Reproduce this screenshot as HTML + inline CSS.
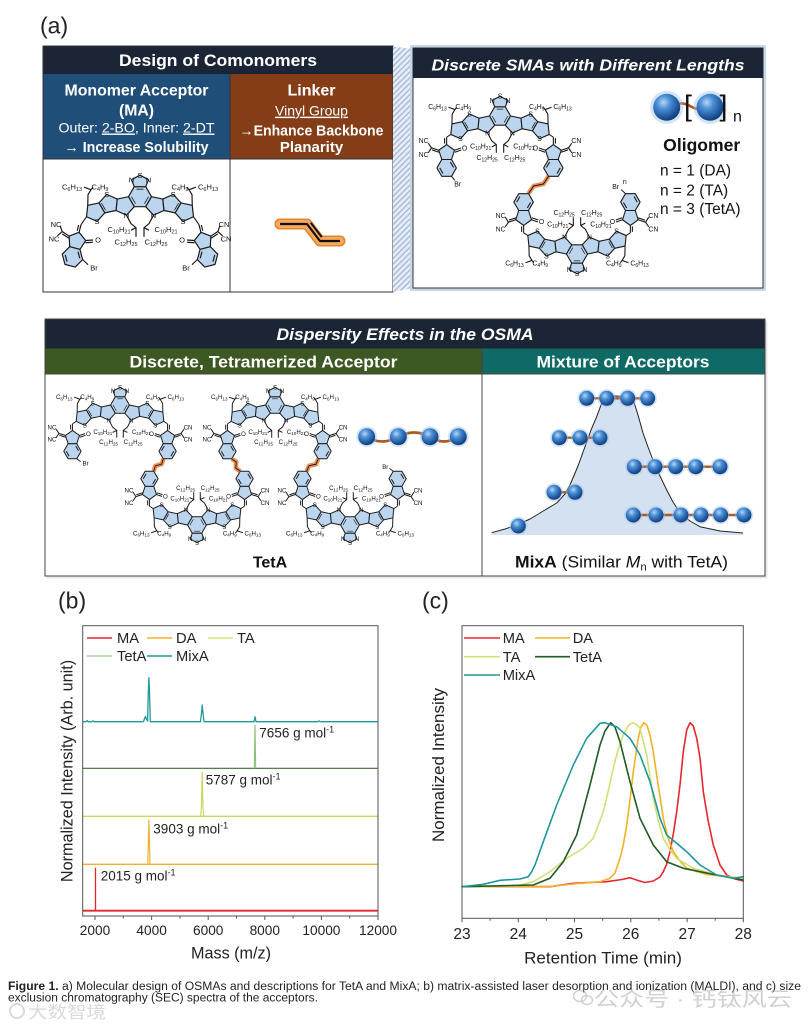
<!DOCTYPE html>
<html><head><meta charset="utf-8">
<style>
html,body{margin:0;padding:0;background:#fff;}
svg{display:block;}
text{font-family:"Liberation Sans",Arial,sans-serif;}
.m{font-size:7.5px;fill:#111;text-anchor:middle;}
.s{font-size:5.5px;}
.bd{stroke:#1a1a1a;stroke-width:1.1;fill:none;}
.wt{fill:#fff;font-weight:bold;text-anchor:middle;}
.ax{fill:#222;}
</style></head>
<body>
<svg width="809" height="1025" viewBox="0 0 809 1025" xmlns="http://www.w3.org/2000/svg">
<defs>
<pattern id="hatch" width="4" height="4" patternUnits="userSpaceOnUse" patternTransform="rotate(45)">
<rect width="4" height="4" fill="#e6edf6"/><rect width="1.4" height="4" fill="#a6bad6"/></pattern>
<radialGradient id="bg" cx=".38" cy=".32" r=".72">
<stop offset="0" stop-color="#b4d6f6"/><stop offset=".35" stop-color="#4a8ed4"/><stop offset=".8" stop-color="#1c5196"/><stop offset="1" stop-color="#123a6e"/></radialGradient>
<g id="ball"><circle r="9.2" fill="#9ec4ea" opacity=".45"/><circle r="7.5" fill="url(#bg)"/></g>
<g id="core" fill="#bcd5ef" stroke="#1a1a1a" stroke-width="1.2" stroke-linejoin="round">
<polygon points="-11.5,0 -5.75,-10 5.75,-10 11.5,0 5.75,10 -5.75,10"/>
<polygon points="-5.75,-10 -8.5,-17 0,-21.5 8.5,-17 5.75,-10"/>
<polygon points="-11.5,0 -5.75,10 -13.5,18.5 -24,13.8 -22.8,2.4"/>
<polygon points="11.5,0 5.75,10 13.5,18.5 24,13.8 22.8,2.4"/>
<polygon points="-22.8,2.4 -24,13.8 -35.25,16.18 -40.98,6.21 -33.28,-2.32"/>
<polygon points="22.8,2.4 24,13.8 35.25,16.18 40.98,6.21 33.28,-2.32"/>
<polygon points="-40.98,6.21 -35.25,16.18 -42.95,24.72 -53.45,20.04 -52.25,8.61"/>
<polygon points="40.98,6.21 35.25,16.18 42.95,24.72 53.45,20.04 52.25,8.61"/>
<path fill="none" d="M-52.25,8.61 L-52,-2 L-49,-7 L-56,-9.5 M-49,-7 L-47,-9.5 M52.25,8.61 L52,-2 L49,-7 L56,-9.5 M49,-7 L47,-9.5 M-13.5,18.5 L-9,27 L-4,31 L-4,40 M-4,31 L-9,33.5 M13.5,18.5 L9,27 L4,31 L4,40 M4,31 L9,33.5"/>
<path fill="none" stroke-width=".8" d="M-3.5,-7.5 L3.5,-7.5 M-8.5,0 L-4.5,7 M8.5,0 L4.5,7 M-38.5,6.5 L-34.5,13.5 M38.5,6.5 L34.5,13.5"/>
</g>
<g id="eg" fill="#bcd5ef" stroke="#1a1a1a" stroke-width="1.2" stroke-linejoin="round">
<polygon points="0,-9 8.56,-2.78 5.29,7.28 -5.29,7.28 -8.56,-2.78"/>
<polygon points="-5.29,7.28 5.29,7.28 10.58,16.44 5.29,25.6 -5.29,25.6 -10.58,16.44"/>
<path fill="none" d="M0,-9 V-17 M-2.2,-10 V-16 M-8.56,-2.78 L-16.5,-5.4 M-8.2,-0.6 L-15.8,-3.1 M-16.5,-5.4 L-20,-10.5 M-16.5,-5.4 L-20,0 M8.56,-2.78 L15.5,-5.2 M8.9,-0.6 L15.9,-3 M-7.5,16.4 L-4,22.5 M4,10 L7.5,16"/>
</g>
</defs>

<rect width="809" height="1025" fill="#fff"/>

<!-- ===== Panel (a) ===== -->
<text x="40" y="33.6" font-size="23" fill="#222">(a)</text>
<rect x="43" y="46" width="350" height="246" fill="#fff"/>
<rect x="43" y="46" width="350" height="28" fill="#1c2535"/>
<rect x="43" y="74" width="187" height="85" fill="#1f4e79"/>
<rect x="230" y="74" width="163" height="85" fill="#853d17"/>
<line x1="230" y1="74" x2="230" y2="292" stroke="#333"/>
<line x1="43" y1="159" x2="393" y2="159" stroke="#333"/>
<rect x="43" y="46" width="350" height="246" fill="none" stroke="#333"/>
<text class="wt" x="218" y="66" font-size="16.5" textLength="198" lengthAdjust="spacingAndGlyphs">Design of Comonomers</text>
<text class="wt" x="136.5" y="95.5" font-size="15.8" textLength="144" lengthAdjust="spacingAndGlyphs">Monomer Acceptor</text>
<text class="wt" x="136.5" y="115.5" font-size="15.8">(MA)</text>
<text x="136.5" y="132.5" font-size="14" fill="#fff" text-anchor="middle" textLength="156" lengthAdjust="spacingAndGlyphs">Outer: <tspan style="text-decoration:underline">2-BO</tspan>, Inner: <tspan style="text-decoration:underline">2-DT</tspan></text>
<text class="wt" x="136.5" y="152" font-size="15" textLength="144" lengthAdjust="spacingAndGlyphs">→ Increase Solubility</text>
<text class="wt" x="311.5" y="95.5" font-size="16">Linker</text>
<text x="311.5" y="115.7" font-size="14" fill="#fff" text-anchor="middle" style="text-decoration:underline">Vinyl Group</text>
<text class="wt" x="311.5" y="135.3" font-size="15" textLength="144" lengthAdjust="spacingAndGlyphs">→Enhance Backbone</text>
<text class="wt" x="311.5" y="152" font-size="15">Planarity</text>

<!-- linker icon -->
<path d="M280,224 L307,224 L320,241 L340,241" stroke="#dc8530" stroke-width="11" fill="none" stroke-linecap="round" stroke-linejoin="round"/>
<path d="M280,224 L307,224 L320,241 L340,241" stroke="#f5a95c" stroke-width="8" fill="none" stroke-linecap="round" stroke-linejoin="round"/>
<path d="M280,224 L307,224 L320,241 L340,241" stroke="#111" stroke-width="2.2" fill="none" stroke-linejoin="round"/>
<path d="M310.8,222.8 L321.8,237.2" stroke="#111" stroke-width="2"/>

<!-- MA molecule -->
<g transform="translate(140,196.7)">
<use href="#core"/>
<use href="#eg" transform="translate(-63.3,44.3) rotate(15)"/>
<use href="#eg" transform="translate(63.3,44.3) scale(-1,1) rotate(15)"/>
<path class="bd" d="M-53.45,20.04 L-58.9,27.9 M53.45,20.04 L58.9,27.9 M-57.3,62.9 L-52,68 M57.3,62.9 L52,68"/>
<text class="m" x="-8.5" y="-14.4">N</text><text class="m" x="0" y="-18.9">S</text><text class="m" x="8.5" y="-14.4">N</text>
<text class="m" x="-13.5" y="21.1">N</text><text class="m" x="13.5" y="21.1">N</text>
<text class="m" x="-33.3" y="0.3">S</text><text class="m" x="33.3" y="0.3">S</text>
<text class="m" x="-43" y="27.3">S</text><text class="m" x="43" y="27.3">S</text>
<text class="m" x="-68" y="-7.4">C<tspan class="s" dy="1.6">6</tspan><tspan dy="-1.6">H</tspan><tspan class="s" dy="1.6">13</tspan></text>
<text class="m" x="-40" y="-7.4">C<tspan class="s" dy="1.6">4</tspan><tspan dy="-1.6">H</tspan><tspan class="s" dy="1.6">9</tspan></text>
<text class="m" x="40" y="-7.4">C<tspan class="s" dy="1.6">4</tspan><tspan dy="-1.6">H</tspan><tspan class="s" dy="1.6">9</tspan></text>
<text class="m" x="68" y="-7.4">C<tspan class="s" dy="1.6">6</tspan><tspan dy="-1.6">H</tspan><tspan class="s" dy="1.6">13</tspan></text>
<text class="m" x="-21" y="35.2">C<tspan class="s" dy="1.6">10</tspan><tspan dy="-1.6">H</tspan><tspan class="s" dy="1.6">21</tspan></text>
<text class="m" x="26" y="35.2">C<tspan class="s" dy="1.6">10</tspan><tspan dy="-1.6">H</tspan><tspan class="s" dy="1.6">21</tspan></text>
<text class="m" x="-14" y="47.6">C<tspan class="s" dy="1.6">12</tspan><tspan dy="-1.6">H</tspan><tspan class="s" dy="1.6">25</tspan></text>
<text class="m" x="16" y="47.6">C<tspan class="s" dy="1.6">12</tspan><tspan dy="-1.6">H</tspan><tspan class="s" dy="1.6">25</tspan></text>
<text class="m" x="-84" y="30.1">NC</text><text class="m" x="-86" y="44.6">NC</text><text class="m" x="-42" y="45.6">O</text>
<text class="m" x="84" y="30.1">CN</text><text class="m" x="86" y="44.6">CN</text><text class="m" x="42" y="45.6">O</text>
<text class="m" x="-46" y="73.6">Br</text><text class="m" x="46" y="73.6">Br</text>
</g>

<!-- hatch connector -->
<polygon points="393,46.5 413,49 413,288 393,292" fill="url(#hatch)"/>

<!-- right box -->
<rect x="411.5" y="46.5" width="353" height="243" fill="none" stroke="#c7d7ea" stroke-width="3"/>
<rect x="413" y="48" width="350" height="240" fill="#fff" stroke="#333"/>
<rect x="413" y="48" width="350" height="30" fill="#1c2535"/>
<text class="wt" x="588" y="70.5" font-size="16" font-style="italic" textLength="313" lengthAdjust="spacingAndGlyphs">Discrete SMAs with Different Lengths</text>

<!-- right upper molecule -->
<g transform="translate(500,116) scale(.92)">
<use href="#core"/>
<use href="#eg" transform="translate(-58,40)"/>
<use href="#eg" transform="translate(58,40) scale(-1,1)"/>
<path class="bd" d="M-53.45,20.04 L-58,23 M53.45,20.04 L58,23 M-52.7,65.6 L-49,70"/>
<text class="m" x="-8.5" y="-14.4">N</text><text class="m" x="0" y="-18.9">S</text><text class="m" x="8.5" y="-14.4">N</text>
<text class="m" x="-13.5" y="21.1">N</text><text class="m" x="13.5" y="21.1">N</text>
<text class="m" x="-33.3" y="0.3">S</text><text class="m" x="33.3" y="0.3">S</text>
<text class="m" x="-43" y="27.3">S</text><text class="m" x="43" y="27.3">S</text>
<text class="m" x="-68" y="-7.4">C<tspan class="s" dy="1.6">6</tspan><tspan dy="-1.6">H</tspan><tspan class="s" dy="1.6">13</tspan></text>
<text class="m" x="-40" y="-7.4">C<tspan class="s" dy="1.6">4</tspan><tspan dy="-1.6">H</tspan><tspan class="s" dy="1.6">9</tspan></text>
<text class="m" x="40" y="-7.4">C<tspan class="s" dy="1.6">4</tspan><tspan dy="-1.6">H</tspan><tspan class="s" dy="1.6">9</tspan></text>
<text class="m" x="68" y="-7.4">C<tspan class="s" dy="1.6">6</tspan><tspan dy="-1.6">H</tspan><tspan class="s" dy="1.6">13</tspan></text>
<text class="m" x="-21" y="35.2">C<tspan class="s" dy="1.6">10</tspan><tspan dy="-1.6">H</tspan><tspan class="s" dy="1.6">21</tspan></text>
<text class="m" x="26" y="35.2">C<tspan class="s" dy="1.6">10</tspan><tspan dy="-1.6">H</tspan><tspan class="s" dy="1.6">21</tspan></text>
<text class="m" x="-14" y="47.6">C<tspan class="s" dy="1.6">12</tspan><tspan dy="-1.6">H</tspan><tspan class="s" dy="1.6">25</tspan></text>
<text class="m" x="16" y="47.6">C<tspan class="s" dy="1.6">12</tspan><tspan dy="-1.6">H</tspan><tspan class="s" dy="1.6">25</tspan></text>
<text class="m" x="-83" y="29.6">NC</text><text class="m" x="-83" y="44.6">NC</text><text class="m" x="-38.5" y="37.6">O</text>
<text class="m" x="83" y="29.6">CN</text><text class="m" x="83" y="44.6">CN</text><text class="m" x="38.5" y="37.6">O</text>
<text class="m" x="-46" y="76.6">Br</text>
</g>

<!-- right lower molecule (flipped) -->
<g transform="translate(577,254) scale(.92)">
<g transform="scale(1,-1)">
<use href="#core"/>
<use href="#eg" transform="translate(-58,40)"/>
<use href="#eg" transform="translate(58,40) scale(-1,1)"/>
<path class="bd" d="M-53.45,20.04 L-58,23 M53.45,20.04 L58,23 M52.7,65.6 L48,70"/>
</g>
<text class="m" x="-8.5" y="19.6">N</text><text class="m" x="0" y="24.1">S</text><text class="m" x="8.5" y="19.6">N</text>
<text class="m" x="-13.5" y="-15.9">N</text><text class="m" x="13.5" y="-15.9">N</text>
<text class="m" x="-33.3" y="4.9">S</text><text class="m" x="33.3" y="4.9">S</text>
<text class="m" x="-43" y="-22.1">S</text><text class="m" x="43" y="-22.1">S</text>
<text class="m" x="-68" y="12.6">C<tspan class="s" dy="1.6">6</tspan><tspan dy="-1.6">H</tspan><tspan class="s" dy="1.6">13</tspan></text>
<text class="m" x="-40" y="12.6">C<tspan class="s" dy="1.6">4</tspan><tspan dy="-1.6">H</tspan><tspan class="s" dy="1.6">9</tspan></text>
<text class="m" x="40" y="12.6">C<tspan class="s" dy="1.6">4</tspan><tspan dy="-1.6">H</tspan><tspan class="s" dy="1.6">9</tspan></text>
<text class="m" x="68" y="12.6">C<tspan class="s" dy="1.6">6</tspan><tspan dy="-1.6">H</tspan><tspan class="s" dy="1.6">13</tspan></text>
<text class="m" x="-21" y="-30">C<tspan class="s" dy="1.6">10</tspan><tspan dy="-1.6">H</tspan><tspan class="s" dy="1.6">21</tspan></text>
<text class="m" x="26" y="-30">C<tspan class="s" dy="1.6">10</tspan><tspan dy="-1.6">H</tspan><tspan class="s" dy="1.6">21</tspan></text>
<text class="m" x="-14" y="-42.4">C<tspan class="s" dy="1.6">12</tspan><tspan dy="-1.6">H</tspan><tspan class="s" dy="1.6">25</tspan></text>
<text class="m" x="16" y="-42.4">C<tspan class="s" dy="1.6">12</tspan><tspan dy="-1.6">H</tspan><tspan class="s" dy="1.6">25</tspan></text>
<text class="m" x="-83" y="-24.4">NC</text><text class="m" x="-83" y="-39.4">NC</text><text class="m" x="-38.5" y="-32.4">O</text>
<text class="m" x="83" y="-24.4">CN</text><text class="m" x="83" y="-39.4">CN</text><text class="m" x="38.5" y="-32.4">O</text>
<text class="m" x="42" y="-70.4">Br</text><text class="m" x="52" y="-76" font-size="6.5">n</text>
</g>
<path d="M548.5,176.4 L543.4,184 L533.6,186 L528.5,193.6" stroke="#e4793a" stroke-width="4.5" fill="none" opacity=".85" stroke-linejoin="round"/>
<path d="M548.5,176.4 L543.4,184 L533.6,186 L528.5,193.6" stroke="#111" stroke-width=".9" fill="none"/>

<!-- oligomer icon -->
<path d="M667,108 Q680,100 690,106 T710,108" stroke="#a85a25" stroke-width="2.6" fill="none"/>
<use href="#ball" transform="translate(666.7,107.3) scale(1.8)"/>
<use href="#ball" transform="translate(710,107.3) scale(1.8)"/>
<text x="684" y="115.7" font-size="28.6" fill="#111">[</text>
<text x="719.5" y="115.7" font-size="28.6" fill="#111">]</text>
<text x="733" y="121.7" font-size="16" fill="#111">n</text>
<text x="701.7" y="151" font-size="17.5" font-weight="bold" fill="#111" text-anchor="middle" textLength="77" lengthAdjust="spacingAndGlyphs">Oligomer</text>
<text x="660" y="175.5" font-size="15.5" fill="#111">n = 1 (DA)</text>
<text x="660" y="195.5" font-size="15.5" fill="#111">n = 2 (TA)</text>
<text x="660" y="213.8" font-size="15.5" fill="#111">n = 3 (TetA)</text>

<!-- ===== Middle panel ===== -->
<rect x="46.5" y="320.5" width="721" height="258" fill="#e8e8e8"/>
<rect x="45" y="319" width="720" height="257" fill="#fff" stroke="#444"/>
<rect x="45" y="319" width="720" height="29.5" fill="#1c2535"/>
<rect x="45" y="348.5" width="437" height="25.5" fill="#3d5822"/>
<rect x="482" y="348.5" width="283" height="25.5" fill="#0f6a66"/>
<line x1="482" y1="348.5" x2="482" y2="576" stroke="#444"/>
<line x1="45" y1="374" x2="765" y2="374" stroke="#444"/>
<rect x="45" y="319" width="720" height="257" fill="none" stroke="#444"/>
<text class="wt" x="405" y="340" font-size="16.5" font-style="italic" textLength="257" lengthAdjust="spacingAndGlyphs">Dispersity Effects in the OSMA</text>
<text class="wt" x="263.5" y="367.5" font-size="16.5" textLength="268" lengthAdjust="spacingAndGlyphs">Discrete, Tetramerized Acceptor</text>
<text class="wt" x="623" y="367.5" font-size="16.5" textLength="173" lengthAdjust="spacingAndGlyphs">Mixture of Acceptors</text>

<!-- TetA UL -->
<g transform="translate(120,405) scale(.82)">
<use href="#core"/>
<use href="#eg" transform="translate(-58,40)"/>
<use href="#eg" transform="translate(58,40) scale(-1,1)"/>
<path class="bd" d="M-53.45,20.04 L-58,23 M53.45,20.04 L58,23 M-52.7,65.6 L-48,69"/>
<text class="m" x="-8.5" y="-14.4">N</text><text class="m" x="0" y="-18.9">S</text><text class="m" x="8.5" y="-14.4">N</text>
<text class="m" x="-13.5" y="21.1">N</text><text class="m" x="13.5" y="21.1">N</text>
<text class="m" x="-33.3" y="0.3">S</text><text class="m" x="33.3" y="0.3">S</text>
<text class="m" x="-43" y="27.3">S</text><text class="m" x="43" y="27.3">S</text>
<text class="m" x="-68" y="-7.4">C<tspan class="s" dy="1.6">6</tspan><tspan dy="-1.6">H</tspan><tspan class="s" dy="1.6">13</tspan></text>
<text class="m" x="-40" y="-7.4">C<tspan class="s" dy="1.6">4</tspan><tspan dy="-1.6">H</tspan><tspan class="s" dy="1.6">9</tspan></text>
<text class="m" x="40" y="-7.4">C<tspan class="s" dy="1.6">4</tspan><tspan dy="-1.6">H</tspan><tspan class="s" dy="1.6">9</tspan></text>
<text class="m" x="68" y="-7.4">C<tspan class="s" dy="1.6">6</tspan><tspan dy="-1.6">H</tspan><tspan class="s" dy="1.6">13</tspan></text>
<text class="m" x="-21" y="35.2">C<tspan class="s" dy="1.6">10</tspan><tspan dy="-1.6">H</tspan><tspan class="s" dy="1.6">21</tspan></text>
<text class="m" x="26" y="35.2">C<tspan class="s" dy="1.6">10</tspan><tspan dy="-1.6">H</tspan><tspan class="s" dy="1.6">21</tspan></text>
<text class="m" x="-14" y="47.6">C<tspan class="s" dy="1.6">12</tspan><tspan dy="-1.6">H</tspan><tspan class="s" dy="1.6">25</tspan></text>
<text class="m" x="16" y="47.6">C<tspan class="s" dy="1.6">12</tspan><tspan dy="-1.6">H</tspan><tspan class="s" dy="1.6">25</tspan></text>
<text class="m" x="-83" y="29.6">NC</text><text class="m" x="-83" y="44.6">NC</text><text class="m" x="-38.5" y="37.6">O</text>
<text class="m" x="83" y="29.6">CN</text><text class="m" x="83" y="44.6">CN</text><text class="m" x="38.5" y="37.6">O</text>
<text class="m" x="-42" y="73.6">Br</text>
</g>

<!-- TetA UM -->
<g transform="translate(275,405) scale(.82)">
<use href="#core"/>
<use href="#eg" transform="translate(-58,40)"/>
<use href="#eg" transform="translate(58,40) scale(-1,1)"/>
<path class="bd" d="M-53.45,20.04 L-58,23 M53.45,20.04 L58,23"/>
<text class="m" x="-8.5" y="-14.4">N</text><text class="m" x="0" y="-18.9">S</text><text class="m" x="8.5" y="-14.4">N</text>
<text class="m" x="-13.5" y="21.1">N</text><text class="m" x="13.5" y="21.1">N</text>
<text class="m" x="-33.3" y="0.3">S</text><text class="m" x="33.3" y="0.3">S</text>
<text class="m" x="-43" y="27.3">S</text><text class="m" x="43" y="27.3">S</text>
<text class="m" x="-68" y="-7.4">C<tspan class="s" dy="1.6">6</tspan><tspan dy="-1.6">H</tspan><tspan class="s" dy="1.6">13</tspan></text>
<text class="m" x="-40" y="-7.4">C<tspan class="s" dy="1.6">4</tspan><tspan dy="-1.6">H</tspan><tspan class="s" dy="1.6">9</tspan></text>
<text class="m" x="40" y="-7.4">C<tspan class="s" dy="1.6">4</tspan><tspan dy="-1.6">H</tspan><tspan class="s" dy="1.6">9</tspan></text>
<text class="m" x="68" y="-7.4">C<tspan class="s" dy="1.6">6</tspan><tspan dy="-1.6">H</tspan><tspan class="s" dy="1.6">13</tspan></text>
<text class="m" x="-21" y="35.2">C<tspan class="s" dy="1.6">10</tspan><tspan dy="-1.6">H</tspan><tspan class="s" dy="1.6">21</tspan></text>
<text class="m" x="26" y="35.2">C<tspan class="s" dy="1.6">10</tspan><tspan dy="-1.6">H</tspan><tspan class="s" dy="1.6">21</tspan></text>
<text class="m" x="-14" y="47.6">C<tspan class="s" dy="1.6">12</tspan><tspan dy="-1.6">H</tspan><tspan class="s" dy="1.6">25</tspan></text>
<text class="m" x="16" y="47.6">C<tspan class="s" dy="1.6">12</tspan><tspan dy="-1.6">H</tspan><tspan class="s" dy="1.6">25</tspan></text>
<text class="m" x="-83" y="29.6">NC</text><text class="m" x="-83" y="44.6">NC</text><text class="m" x="-38.5" y="37.6">O</text>
<text class="m" x="83" y="29.6">CN</text><text class="m" x="83" y="44.6">CN</text><text class="m" x="38.5" y="37.6">O</text>
</g>

<!-- TetA LL (flipped) -->
<g transform="translate(197,525) scale(.82)">
<g transform="scale(1,-1)">
<use href="#core"/>
<use href="#eg" transform="translate(-58,40)"/>
<use href="#eg" transform="translate(58,40) scale(-1,1)"/>
<path class="bd" d="M-53.45,20.04 L-58,23 M53.45,20.04 L58,23"/>
</g>
<text class="m" x="-8.5" y="19.6">N</text><text class="m" x="0" y="24.1">S</text><text class="m" x="8.5" y="19.6">N</text>
<text class="m" x="-13.5" y="-15.9">N</text><text class="m" x="13.5" y="-15.9">N</text>
<text class="m" x="-33.3" y="4.9">S</text><text class="m" x="33.3" y="4.9">S</text>
<text class="m" x="-43" y="-22.1">S</text><text class="m" x="43" y="-22.1">S</text>
<text class="m" x="-68" y="12.6">C<tspan class="s" dy="1.6">6</tspan><tspan dy="-1.6">H</tspan><tspan class="s" dy="1.6">13</tspan></text>
<text class="m" x="-40" y="12.6">C<tspan class="s" dy="1.6">4</tspan><tspan dy="-1.6">H</tspan><tspan class="s" dy="1.6">9</tspan></text>
<text class="m" x="40" y="12.6">C<tspan class="s" dy="1.6">4</tspan><tspan dy="-1.6">H</tspan><tspan class="s" dy="1.6">9</tspan></text>
<text class="m" x="68" y="12.6">C<tspan class="s" dy="1.6">6</tspan><tspan dy="-1.6">H</tspan><tspan class="s" dy="1.6">13</tspan></text>
<text class="m" x="-21" y="-30">C<tspan class="s" dy="1.6">10</tspan><tspan dy="-1.6">H</tspan><tspan class="s" dy="1.6">21</tspan></text>
<text class="m" x="26" y="-30">C<tspan class="s" dy="1.6">10</tspan><tspan dy="-1.6">H</tspan><tspan class="s" dy="1.6">21</tspan></text>
<text class="m" x="-14" y="-42.4">C<tspan class="s" dy="1.6">12</tspan><tspan dy="-1.6">H</tspan><tspan class="s" dy="1.6">25</tspan></text>
<text class="m" x="16" y="-42.4">C<tspan class="s" dy="1.6">12</tspan><tspan dy="-1.6">H</tspan><tspan class="s" dy="1.6">25</tspan></text>
<text class="m" x="-83" y="-24.4">NC</text><text class="m" x="-83" y="-39.4">NC</text><text class="m" x="-38.5" y="-32.4">O</text>
<text class="m" x="83" y="-24.4">CN</text><text class="m" x="83" y="-39.4">CN</text><text class="m" x="38.5" y="-32.4">O</text>
</g>

<!-- TetA LR (flipped) -->
<g transform="translate(350,525) scale(.82)">
<g transform="scale(1,-1)">
<use href="#core"/>
<use href="#eg" transform="translate(-58,40)"/>
<use href="#eg" transform="translate(58,40) scale(-1,1)"/>
<path class="bd" d="M-53.45,20.04 L-58,23 M53.45,20.04 L58,23 M52.7,65.6 L48,69"/>
</g>
<text class="m" x="-8.5" y="19.6">N</text><text class="m" x="0" y="24.1">S</text><text class="m" x="8.5" y="19.6">N</text>
<text class="m" x="-13.5" y="-15.9">N</text><text class="m" x="13.5" y="-15.9">N</text>
<text class="m" x="-33.3" y="4.9">S</text><text class="m" x="33.3" y="4.9">S</text>
<text class="m" x="-43" y="-22.1">S</text><text class="m" x="43" y="-22.1">S</text>
<text class="m" x="-68" y="12.6">C<tspan class="s" dy="1.6">6</tspan><tspan dy="-1.6">H</tspan><tspan class="s" dy="1.6">13</tspan></text>
<text class="m" x="-40" y="12.6">C<tspan class="s" dy="1.6">4</tspan><tspan dy="-1.6">H</tspan><tspan class="s" dy="1.6">9</tspan></text>
<text class="m" x="40" y="12.6">C<tspan class="s" dy="1.6">4</tspan><tspan dy="-1.6">H</tspan><tspan class="s" dy="1.6">9</tspan></text>
<text class="m" x="68" y="12.6">C<tspan class="s" dy="1.6">6</tspan><tspan dy="-1.6">H</tspan><tspan class="s" dy="1.6">13</tspan></text>
<text class="m" x="-21" y="-30">C<tspan class="s" dy="1.6">10</tspan><tspan dy="-1.6">H</tspan><tspan class="s" dy="1.6">21</tspan></text>
<text class="m" x="26" y="-30">C<tspan class="s" dy="1.6">10</tspan><tspan dy="-1.6">H</tspan><tspan class="s" dy="1.6">21</tspan></text>
<text class="m" x="-14" y="-42.4">C<tspan class="s" dy="1.6">12</tspan><tspan dy="-1.6">H</tspan><tspan class="s" dy="1.6">25</tspan></text>
<text class="m" x="16" y="-42.4">C<tspan class="s" dy="1.6">12</tspan><tspan dy="-1.6">H</tspan><tspan class="s" dy="1.6">25</tspan></text>
<text class="m" x="-83" y="-24.4">NC</text><text class="m" x="-83" y="-39.4">NC</text><text class="m" x="-38.5" y="-32.4">O</text>
<text class="m" x="83" y="-24.4">CN</text><text class="m" x="83" y="-39.4">CN</text><text class="m" x="38.5" y="-32.4">O</text>
<text class="m" x="43" y="-68.4">Br</text>
</g>

<!-- TetA linkers -->
<g fill="none" stroke-linejoin="round">
<path d="M163.3,458.8 L161.7,464.1 L155.3,465.9 L153.7,471.2 M231.7,458.8 L236.2,461.8 L235.8,468.2 L240.3,471.2 M318.3,458.8 L315.9,464.3 L309.1,465.7 L306.7,471.2" stroke="#e4793a" stroke-width="4.5" opacity=".85"/>
<path d="M163.3,458.8 L161.7,464.1 L155.3,465.9 L153.7,471.2 M231.7,458.8 L236.2,461.8 L235.8,468.2 L240.3,471.2 M318.3,458.8 L315.9,464.3 L309.1,465.7 L306.7,471.2" stroke="#111" stroke-width=".8"/>
</g>

<!-- TetA chain -->
<path d="M366.7,437 Q382,446 398.3,437 Q414,428 430,437 Q444,446 458.3,437" stroke="#a85a25" stroke-width="2.6" fill="none"/>
<use href="#ball" transform="translate(366.7,436.7) scale(1.13)"/>
<use href="#ball" transform="translate(398.3,436.7) scale(1.13)"/>
<use href="#ball" transform="translate(430,436.7) scale(1.13)"/>
<use href="#ball" transform="translate(458.3,436.7) scale(1.13)"/>
<text x="270" y="567.5" font-size="16" font-weight="bold" fill="#111" text-anchor="middle">TetA</text>

<!-- Mixture -->
<path d="M491.7,532.7 L505,529 L516.7,525 L530,519 L545,510 L556.7,503 L565,494 L570,485 L578,466 L585,446.7 L591,430 L596.7,416.7 L601,405 L606.7,398 L615,396 L625,396.5 L633.3,400 L638,415 L643,433 L648,447 L653,460 L660,476 L666.7,490 L673,502 L680,513 L690,521 L700,526.7 L720,531 L743,533 L743,535 L491.7,535 Z" fill="#d4e1f1"/>
<path d="M491.7,532.7 L505,529 L516.7,525 L530,519 L545,510 L556.7,503 L565,494 L570,485 L578,466 L585,446.7 L591,430 L596.7,416.7 L601,405 L606.7,398 L615,396 L625,396.5 L633.3,400 L638,415 L643,433 L648,447 L653,460 L660,476 L666.7,490 L673,502 L680,513 L690,521 L700,526.7 L720,531 L743,533" fill="none" stroke="#222" stroke-width="1" stroke-linejoin="round"/>
<g stroke="#a85a25" stroke-width="2.4">
<line x1="586.7" y1="398.3" x2="647.7" y2="398.3"/>
<line x1="559.3" y1="437.7" x2="600" y2="437.7"/>
<line x1="634.3" y1="466.7" x2="720" y2="466.7"/>
<line x1="554" y1="492.3" x2="575" y2="492.3"/>
<line x1="633.3" y1="515" x2="744" y2="515"/>
</g>
<use href="#ball" x="586.7" y="398.3"/><use href="#ball" x="606.7" y="398.3"/><use href="#ball" x="627.7" y="398.3"/><use href="#ball" x="647.7" y="398.3"/>
<use href="#ball" x="559.3" y="437.7"/><use href="#ball" x="580" y="437.7"/><use href="#ball" x="600" y="437.7"/>
<use href="#ball" x="634.3" y="466.7"/><use href="#ball" x="655" y="466.7"/><use href="#ball" x="675.7" y="466.7"/><use href="#ball" x="695.7" y="466.7"/><use href="#ball" x="720" y="466.7"/>
<use href="#ball" x="554" y="492.3"/><use href="#ball" x="575" y="492.3"/>
<use href="#ball" x="633.3" y="515"/><use href="#ball" x="656" y="515"/><use href="#ball" x="681" y="515"/><use href="#ball" x="701" y="515"/><use href="#ball" x="720.7" y="515"/><use href="#ball" x="744" y="515"/>
<use href="#ball" x="518.3" y="526"/>
<text x="621.5" y="567.5" font-size="17" fill="#111" text-anchor="middle" textLength="213" lengthAdjust="spacingAndGlyphs"><tspan font-weight="bold">MixA</tspan> (Similar <tspan font-style="italic">M</tspan><tspan font-size="11" dy="3">n</tspan><tspan dy="-3"> with TetA)</tspan></text>

<!-- ===== Panel (b) ===== -->
<text x="58" y="608.5" font-size="23" fill="#222">(b)</text>
<g fill="none" stroke-linejoin="round">
<path d="M82.7,721.7 L86,721.7 L87,720.5 L88,721.7 L92,721.7 L93,720.8 L94,721.7 L143.5,721.7 L144.5,718.5 L145.5,716.5 L146.5,719.5 L147.6,721 L148.3,692 L148.9,677.7 L149.5,692 L150.3,721.7 L200.5,721.7 L201.5,713 L202.2,705 L203,713 L204,721.7 L254,721.7 L255,716.7 L256,721.7 L318,721.7 L319,720.8 L320,721.7 L378,721.7" stroke="#1f9a9a" stroke-width="1.3"/>
<path d="M82.7,768.3 H378" stroke="#3f6c36" stroke-width="1.2"/>
<path d="M254.3,768.3 L255,725 L255.7,768.3" stroke="#8cbf7a" stroke-width="1.1"/>
<path d="M82.7,816.3 H378" stroke="#cdd65a" stroke-width="1.3"/>
<path d="M200.6,816.3 L201.4,808 L202.2,772 L203,808 L203.8,816.3" stroke="#cdd65a" stroke-width="1.2"/>
<path d="M82.7,864.3 H378" stroke="#f0b12c" stroke-width="1.3"/>
<path d="M147.8,864.3 L148.9,820 L150,864.3" stroke="#f0b12c" stroke-width="1.2"/>
<path d="M82.7,910.7 H378" stroke="#e3262b" stroke-width="1.9"/>
<path d="M95.5,910.7 V867.7" stroke="#e3262b" stroke-width="1.3"/>
</g>
<rect x="82.7" y="625.7" width="295.3" height="290.3" fill="none" stroke="#555" stroke-width="1"/>
<path d="M95,916V920 M151.6,916V920 M208.2,916V920 M264.8,916V920 M321.4,916V920 M378,916V920 M123.3,916V918.5 M179.9,916V918.5 M236.5,916V918.5 M293.1,916V918.5 M349.7,916V918.5" stroke="#555" stroke-width="1"/>
<g class="ax" font-size="13.7" text-anchor="middle">
<text x="95" y="935">2000</text><text x="151.6" y="935">4000</text><text x="208.2" y="935">6000</text><text x="264.8" y="935">8000</text><text x="321.4" y="935">10000</text><text x="378" y="935">12000</text>
</g>
<text class="ax" x="231" y="958.7" font-size="16.2" text-anchor="middle">Mass (m/z)</text>
<text class="ax" transform="translate(72.4,771) rotate(-90)" font-size="16.2" text-anchor="middle">Normalized Intensity (Arb. unit)</text>
<g class="ax" font-size="13.5">
<text x="259.3" y="737.7">7656 g mol<tspan font-size="9" dy="-5">-1</tspan></text>
<text x="205.7" y="784.7">5787 g mol<tspan font-size="9" dy="-5">-1</tspan></text>
<text x="153.3" y="833.7">3903 g mol<tspan font-size="9" dy="-5">-1</tspan></text>
<text x="100.7" y="880.7">2015 g mol<tspan font-size="9" dy="-5">-1</tspan></text>
</g>
<g stroke-width="1.5">
<line x1="87" y1="638" x2="112" y2="638" stroke="#e3262b"/>
<line x1="147" y1="638" x2="172" y2="638" stroke="#f0b12c"/>
<line x1="208" y1="638" x2="233" y2="638" stroke="#dde07a"/>
<line x1="87" y1="656" x2="112" y2="656" stroke="#a8cf98"/>
<line x1="147" y1="656" x2="172" y2="656" stroke="#1f9a9a"/>
</g>
<g class="ax" font-size="14.7">
<text x="117" y="643.2">MA</text><text x="176" y="643.2">DA</text><text x="237" y="643.2">TA</text>
<text x="117" y="661.2">TetA</text><text x="176" y="661.2">MixA</text>
</g>

<!-- ===== Panel (c) ===== -->
<text x="422" y="608.5" font-size="23" fill="#222">(c)</text>
<g fill="none" stroke-width="1.6" stroke-linejoin="round" stroke-linecap="round">
<path stroke="#e8262c" d="M462,886.7 L550,886.7 L573.3,883.3 L606.7,881.7 L622,879.5 L630,877.7 L638,880.5 L645,882.5 L653.3,881 L660,877 L663.3,871.7 L666.7,864 L670,851.7 L673.3,834 L676.7,811.7 L680,785 L683.3,751.7 L686.7,730 L690,722.7 L693.3,726 L696.7,738.3 L700,758 L703.3,791.7 L708,820 L713.3,845 L720,865 L726.7,875 L735,879 L743.3,881"/>
<path stroke="#f3b223" d="M462,886.7 L550,886.5 L573.3,884 L600,881.7 L610,878.3 L615,873 L620,858.3 L623.3,845 L626.7,825 L630,800 L633.3,771.7 L638.3,738.3 L641,727 L644,722.7 L647,725.5 L650,735 L653.3,752 L656.7,775 L663.3,818.3 L668,838 L673.3,851.7 L680,861 L686.7,868.3 L706.7,874.5 L743.3,878.3"/>
<path stroke="#d2df7a" d="M462,886.7 L516.7,886 L533.3,881.7 L550,871.7 L566.7,858.3 L583.3,848.3 L593.3,838.3 L603.3,811.7 L608,792 L613.3,768.3 L618,750 L623.3,735 L628,726 L632.7,722.7 L636.5,724.5 L640,728.3 L646.7,755 L653.3,798.3 L658,820 L663.3,838.3 L670,850 L676.7,858.3 L693.3,868.3 L716.7,875 L743.3,878.3"/>
<path stroke="#1f5b22" d="M462,886.7 L533.3,885 L550,878.3 L563.3,861.7 L576.7,835 L590,785 L600,745 L605,731 L610.7,722.7 L615,727 L620,741.7 L630,781.7 L640,818.3 L653.3,845 L666.7,861.7 L683.3,868.3 L716.7,875 L743.3,880"/>
<path stroke="#1f979c" d="M462,886.7 L483.3,884.3 L500,880.3 L520,879 L528.3,876.7 L531.5,872 L535,865 L543.3,841.7 L556.7,805 L573.3,765 L586.7,738.3 L600,723.3 L605,722.7 L616.7,726.7 L630,738.3 L640,755 L650,781.7 L660,818.3 L666.7,835 L676.7,843.3 L686.7,851.7 L700,865 L716.7,875 L733.3,878.3 L743.3,876.7"/>
</g>
<rect x="462" y="625.7" width="281.3" height="292.6" fill="none" stroke="#555" stroke-width="1"/>
<path d="M462,918.3V922.3 M518.3,918.3V922.3 M574.5,918.3V922.3 M630.8,918.3V922.3 M687.1,918.3V922.3 M743.3,918.3V922.3 M490.1,918.3V920.8 M546.4,918.3V920.8 M602.7,918.3V920.8 M658.9,918.3V920.8 M715.2,918.3V920.8" stroke="#555" stroke-width="1"/>
<g class="ax" font-size="15.5" text-anchor="middle">
<text x="462" y="938.9">23</text><text x="518.3" y="938.9">24</text><text x="574.5" y="938.9">25</text><text x="630.8" y="938.9">26</text><text x="687.1" y="938.9">27</text><text x="743.3" y="938.9">28</text>
</g>
<text class="ax" x="603" y="963.7" font-size="17" text-anchor="middle">Retention Time (min)</text>
<text class="ax" transform="translate(444,765) rotate(-90)" font-size="17" text-anchor="middle">Normalized Intensity</text>
<g stroke-width="1.6">
<line x1="464" y1="638" x2="500" y2="638" stroke="#e8262c"/>
<line x1="535" y1="638" x2="570" y2="638" stroke="#f3b223"/>
<line x1="464" y1="656.7" x2="500" y2="656.7" stroke="#d2df7a"/>
<line x1="535" y1="656.7" x2="570" y2="656.7" stroke="#1f5b22"/>
<line x1="464" y1="675" x2="500" y2="675" stroke="#1f979c"/>
</g>
<g class="ax" font-size="14.7">
<text x="502.7" y="643.2">MA</text><text x="572.7" y="643.2">DA</text>
<text x="502.7" y="661.9">TA</text><text x="572.7" y="661.9">TetA</text>
<text x="502.7" y="680.2">MixA</text>
</g>

<!-- ===== Caption ===== -->
<text x="8" y="990" font-size="11.5" fill="#231f20" textLength="793" lengthAdjust="spacingAndGlyphs"><tspan font-weight="bold">Figure 1.</tspan>  a) Molecular design of OSMAs and descriptions for TetA and MixA; b) matrix-assisted laser desorption and ionization (MALDI), and c) size</text>
<text x="8" y="1001.5" font-size="11.5" fill="#231f20" textLength="310" lengthAdjust="spacingAndGlyphs">exclusion chromatography (SEC) spectra of the acceptors.</text>
<g opacity=".55">
<ellipse cx="580" cy="996" rx="6.5" ry="5.5" fill="none" stroke="#aaa" stroke-width="1.5"/>
<ellipse cx="587" cy="1000" rx="5.5" ry="4.5" fill="none" stroke="#aaa" stroke-width="1.5"/>
<text x="594" y="1006" font-size="20" fill="#aaa" font-family="'Liberation Sans','Noto Sans CJK SC',sans-serif" textLength="198" lengthAdjust="spacingAndGlyphs">公众号 · 钙钛风云</text>
<circle cx="17" cy="1011" r="7" fill="none" stroke="#bbb" stroke-width="2"/>
<text x="28" y="1018" font-size="17" fill="#bbb" font-family="'Liberation Sans','Noto Sans CJK SC',sans-serif" textLength="78" lengthAdjust="spacingAndGlyphs">大数智境</text>
</g>
</svg>
</body></html>
